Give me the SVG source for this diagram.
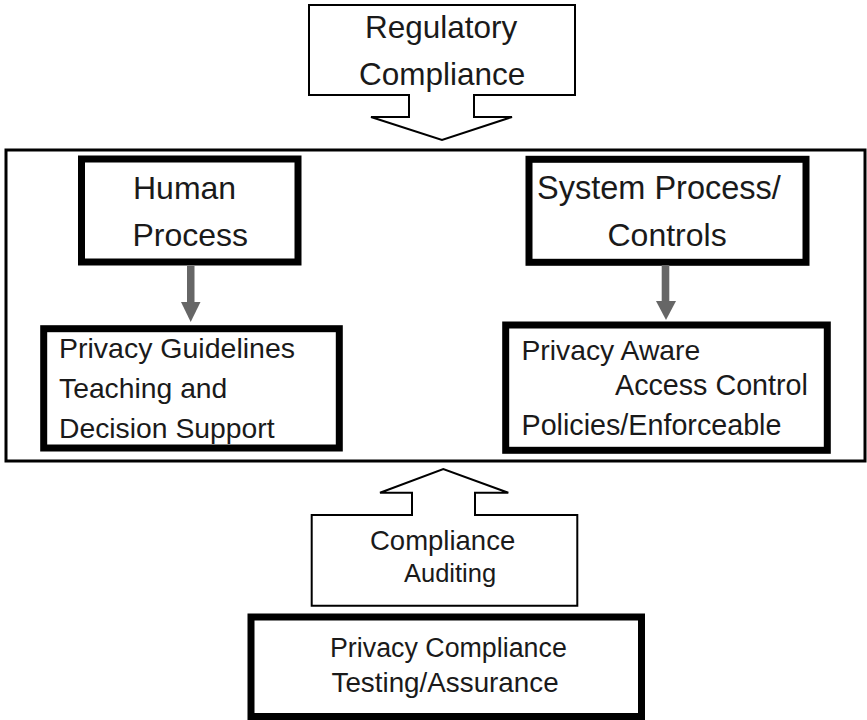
<svg xmlns="http://www.w3.org/2000/svg" width="867" height="720" viewBox="0 0 867 720">
<style>
.t{font-family:"Liberation Sans",Arial,sans-serif;fill:#1a1a1a}
.thin{fill:#fff;stroke:#000;stroke-width:2}
.thick{fill:#fff;stroke:#000;stroke-width:7}
.ga{fill:#666;stroke:none}
</style>
<rect width="867" height="720" fill="#fff"/>
<g id="container">
<rect x="6" y="150" width="859" height="311" fill="none" stroke="#000" stroke-width="3"/>
</g>
<g id="regulatory">
<path class="thin" d="M309,5 H575 V95 H474 V117 H512 L442,140 L371,117 H409 V95 H309 Z"/>
<text class="t" x="365" y="38" font-size="31.5">Regulatory</text>
<text class="t" x="359" y="85" font-size="31.5">Compliance</text>
</g>
<g id="human">
<rect class="thick" x="81.5" y="159" width="216.5" height="103"/>
<text class="t" x="133" y="199" font-size="32">Human</text>
<text class="t" x="132.5" y="246" font-size="32">Process</text>
</g>
<g id="system">
<rect class="thick" x="529" y="159.3" width="277" height="103"/>
<text class="t" x="537" y="199" font-size="32.5">System Process/</text>
<text class="t" x="607.5" y="246" font-size="32">Controls</text>
</g>
<g id="guidelines">
<rect class="thick" x="43.7" y="328.7" width="295.6" height="119.3"/>
<text class="t" x="59" y="357.5" font-size="28.5">Privacy Guidelines</text>
<text class="t" x="59" y="398" font-size="28.3">Teaching and</text>
<text class="t" x="59" y="438" font-size="28.3">Decision Support</text>
</g>
<g id="access">
<rect class="thick" x="505.7" y="325" width="321.6" height="125.3"/>
<text class="t" x="521.5" y="360" font-size="28.3">Privacy Aware</text>
<text class="t" x="615" y="395" font-size="28.7">Access Control</text>
<text class="t" x="521.5" y="435" font-size="28.7">Policies/Enforceable</text>
</g>
<g id="auditing">
<path class="thin" d="M311.7,605.7 V515 H412 V492.7 H380 L443.3,469 L508.3,492.7 H475 V515 H577.3 V605.7 Z"/>
<text class="t" x="370" y="550" font-size="27.5">Compliance</text>
<text class="t" x="404" y="581.5" font-size="25.5">Auditing</text>
</g>
<g id="testing">
<rect class="thick" x="251" y="617" width="390.5" height="99.5"/>
<text class="t" x="330" y="656.5" font-size="26.8">Privacy Compliance</text>
<text class="t" x="331.5" y="691.5" font-size="27.8">Testing/Assurance</text>
</g>
<g id="connectors">
<rect class="ga" x="187" y="266" width="7.5" height="37"/>
<polygon class="ga" points="181,302 200.5,302 190.7,322"/>
<rect class="ga" x="661.7" y="265" width="7.6" height="37"/>
<polygon class="ga" points="656,301 676,301 666,320"/>
</g>
</svg>
